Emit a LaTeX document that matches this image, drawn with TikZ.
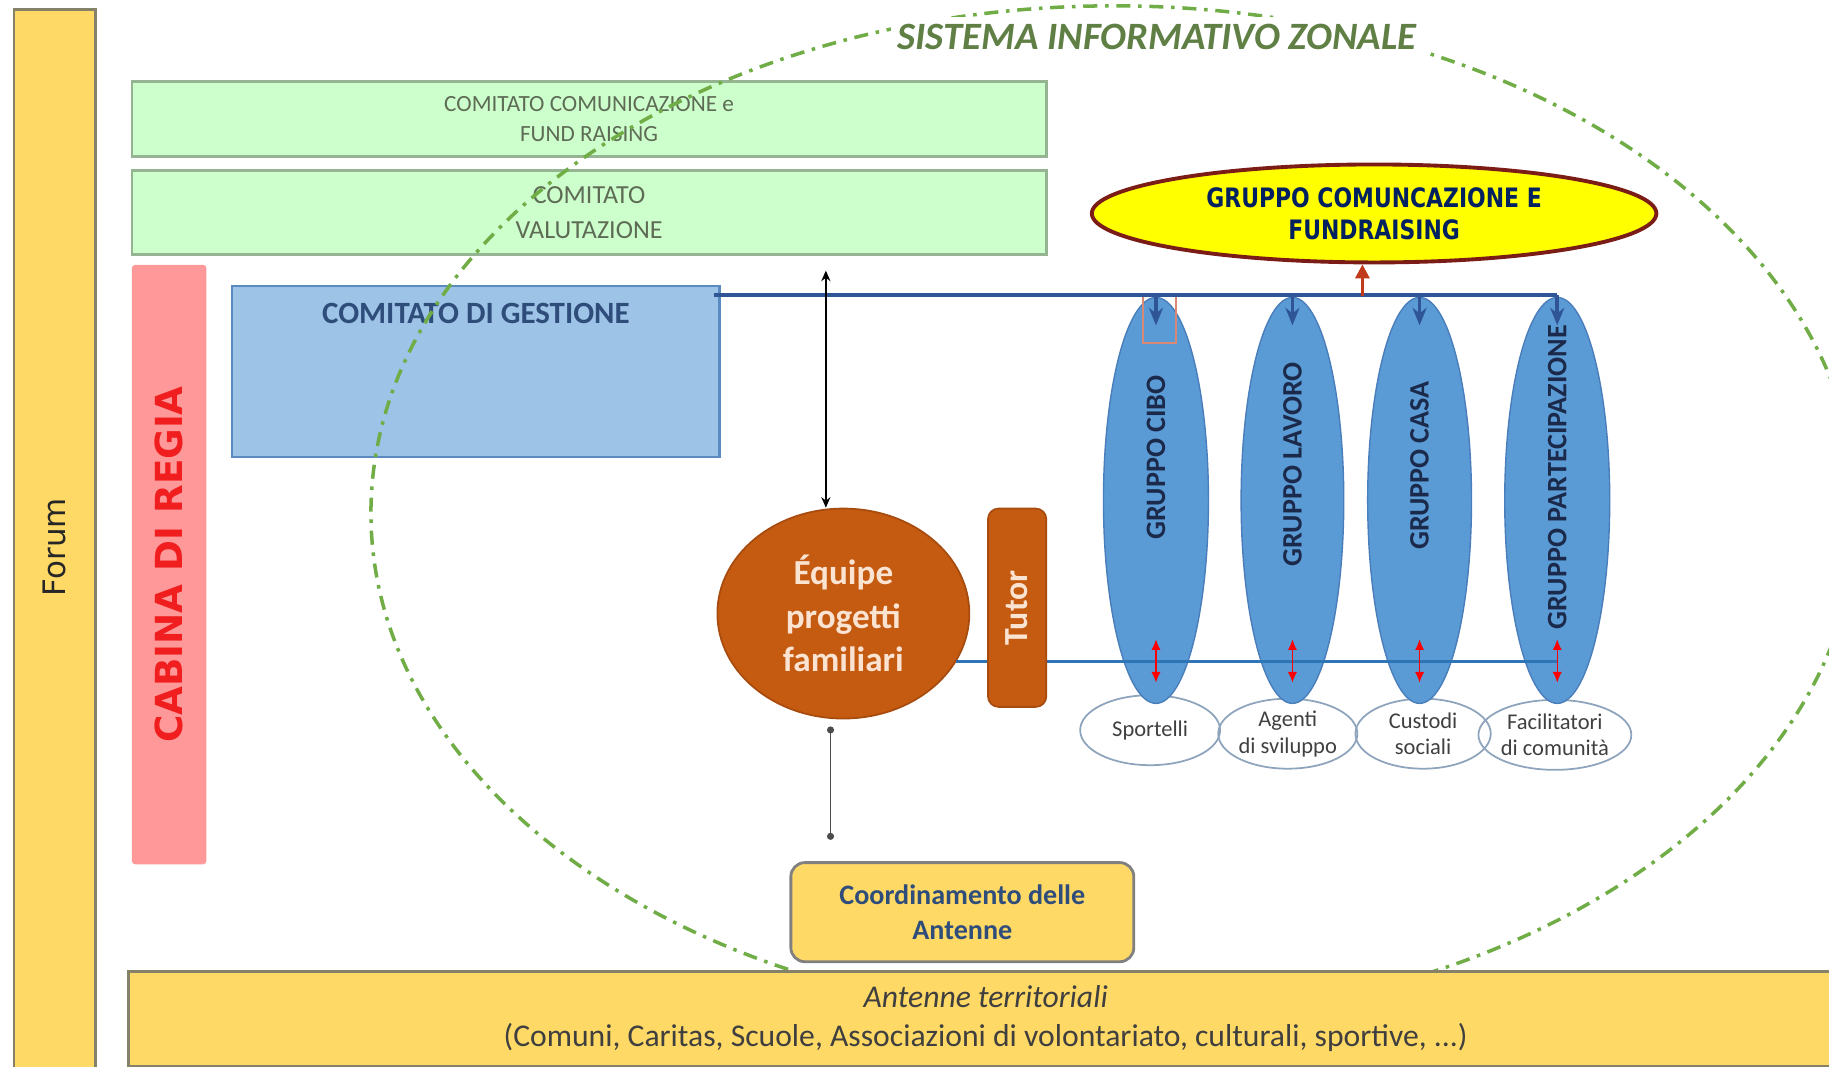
\documentclass[tikz,border=0pt]{standalone}
\usepackage{fontspec}
\setmainfont{Carlito}
\newfontfamily\dejavu{DejaVu Sans}
\newfontfamily\dejavunarrow{DejaVu Sans}[FakeStretch=0.82]
\usepackage{tikz}
\usetikzlibrary{positioning,arrows.meta,shapes.geometric,calc}

\definecolor{forumyellow}{HTML}{FFD966}
\definecolor{bargray}{HTML}{86826A}
\definecolor{greenfill}{HTML}{CCFFCC}
\definecolor{greenedge}{HTML}{95B592}
\definecolor{greentext}{HTML}{5E6B55}
\definecolor{cabinapink}{HTML}{FF9999}
\definecolor{cabinared}{HTML}{F01E1E}
\definecolor{gestfill}{HTML}{9DC3E6}
\definecolor{gestedge}{HTML}{5B8AC0}
\definecolor{gesttext}{HTML}{2F4D7A}
\definecolor{darkblue}{HTML}{2F5597}
\definecolor{midblue}{HTML}{2E75B6}
\definecolor{grpblue}{HTML}{5B9BD5}
\definecolor{grpedge}{HTML}{4A7EBB}
\definecolor{navy}{HTML}{1B2A4A}
\definecolor{equipeorange}{HTML}{C55A11}
\definecolor{peach}{HTML}{FBE3D2}
\definecolor{roleedge}{HTML}{8EA4BC}
\definecolor{rolegray}{HTML}{404040}
\definecolor{fundyellow}{HTML}{FFFF00}
\definecolor{fundedge}{HTML}{7B1C16}
\definecolor{fundtext}{HTML}{002060}
\definecolor{fundarrowred}{HTML}{C0391B}
\definecolor{zonegreen}{HTML}{70AD47}
\definecolor{zonetext}{HTML}{5F7F45}
\definecolor{bandtext}{HTML}{3F3F3F}

\newcommand\px{0.011665cm}

\begin{document}
\begin{tikzpicture}[x=\px, y=-\px, text centered, inner sep=1pt]
    \tikzstyle{forumbar}=[rectangle, draw=bargray, line width=0.7pt, fill=forumyellow]
    \tikzstyle{greenbox}=[rectangle, draw=greenedge, line width=0.7pt, fill=greenfill, text=greentext, align=center, minimum width=784*\px]
    \tikzstyle{cabinabar}=[rectangle, rounded corners=1pt, fill=cabinapink, text=cabinared, font=\dejavu\bfseries\fontsize{10.6}{12}\selectfont]
    \tikzstyle{gestbox}=[rectangle, draw=gestedge, line width=0.7pt, fill=gestfill]
    \tikzstyle{grp}=[ellipse, draw=grpedge, line width=0.4pt, fill=grpblue, minimum width=90*\px, minimum height=348*\px, inner sep=0pt]
    \tikzstyle{grptext}=[rotate=90, font=\bfseries\fontsize{8}{9.6}\selectfont, text=navy]
    \tikzstyle{role}=[ellipse, draw=roleedge, line width=0.5pt, minimum width=120*\px, minimum height=60*\px, inner sep=0pt, align=center, font=\fontsize{6.4}{7.6}\selectfont, text=rolegray]
    \tikzstyle{topline}=[draw=darkblue, line width=1pt]
    \tikzstyle{lowline}=[draw=midblue, line width=0.9pt]
    \tikzstyle{downarrow}=[-{Stealth[length=5pt,width=4pt]}, draw=darkblue, line width=1pt]
    \tikzstyle{redarrow}=[{Latex[length=3pt,width=2.6pt]}-{Latex[length=3pt,width=2.6pt]}, draw=red, line width=0.3pt]
    \tikzstyle{vlink}=[{Stealth[length=3pt,width=2.6pt]}-{Stealth[length=3pt,width=2.6pt]}, draw=black, line width=0.4pt]
    \tikzstyle{dotlink}=[{Circle[length=2pt]}-{Circle[length=2pt]}, draw=black!70, line width=0.4pt]
    \tikzstyle{fundarrow}=[-{Triangle[length=4pt,width=4pt]}, draw=fundarrowred, line width=0.9pt]
    \tikzstyle{zonale}=[draw=zonegreen, line width=1pt, dash pattern=on 4pt off 2.2pt on 1pt off 2.2pt]
    \tikzstyle{yellowbox}=[rectangle, draw=gray, line width=0.8pt, fill=forumyellow, align=center]

    \useasboundingbox (0,0) rectangle (1568,914);
    \clip (0,0) rectangle (1568,914);

    % left bars and committees
    \node[forumbar, rotate=90, minimum width=922*\px, minimum height=70*\px, font=\dejavu\fontsize{8.8}{10}\selectfont, text=black!85] (forum) at (47,469) {Forum};
    \node[greenbox, minimum height=64*\px, font=\fontsize{6.6}{8.3}\selectfont] (comcom) at (505,102) {COMITATO COMUNICAZIONE e\\FUND RAISING};
    \node[greenbox, minimum height=72*\px, font=\fontsize{7.4}{10}\selectfont] (comval) at (505,182) {COMITATO\\VALUTAZIONE};
    \node[cabinabar, rotate=90, minimum width=514*\px, minimum height=64*\px] (cabina) at (145,484) {CABINA DI REGIA};
    \node[gestbox, minimum width=418*\px, minimum height=147*\px] (gestione) at (408,318.5) {};
    \node[below=4pt of gestione.north, font=\bfseries\fontsize{8.8}{10}\selectfont, text=gesttext] (gesttitle) {COMITATO DI GESTIONE};

    % sistema informativo zonale
    \draw[zonale] (955,440) ellipse [x radius=637, y radius=435];
    \node[fill=white, inner sep=2pt, font=\bfseries\itshape\fontsize{11}{13}\selectfont, text=zonetext] (sistema) at (992,32) {SISTEMA INFORMATIVO ZONALE};

    % working groups
    \node[role] (sportelli) at (986,626) {Sportelli};
    \node[role, minimum width=118*\px] (agenti) at (1104,629) {Agenti\\di sviluppo};
    \node[role, minimum width=116*\px] (custodi) at (1220,629) {Custodi\\sociali};
    \node[role, minimum width=122*\px] (facil) at (1333,630) {Facilitatori\\di comunità};

    \node[grp] (cibo) at (991,429) {};
    \node[grp, minimum width=88*\px] (lavoro) at (1108,429) {};
    \node[grp, minimum width=89*\px] (casa) at (1217,429) {};
    \node[grp] (partec) at (1335,429) {};
    \node[grptext] (cibotxt) at (991,392) {GRUPPO CIBO};
    \node[grptext] (lavorotxt) at (1108,398) {GRUPPO LAVORO};
    \node[grptext] (casatxt) at (1217,399) {GRUPPO CASA};
    \node[grptext] (partectxt) at (1335,409) {GRUPPO PARTECIPAZIONE};
    \draw[draw=fundarrowred!60!white, line width=0.5pt] (980,252) rectangle (1008,294);

    \node[ellipse, draw=fundedge, line width=1.1pt, fill=fundyellow, minimum width=484*\px, minimum height=84*\px, inner sep=0pt, align=center, font=\dejavunarrow\bfseries\fontsize{7.6}{9}\selectfont, text=fundtext] (fundr) at (1178,183) {GRUPPO COMUNCAZIONE E\\FUNDRAISING};

    % equipe
    \node[ellipse, draw=equipeorange!85!black, line width=0.5pt, fill=equipeorange, minimum width=216*\px, minimum height=180*\px, align=center, font=\bfseries\fontsize{10}{12.4}\selectfont, text=peach] (equipe) at (723,526) {Équipe\\progetti\\familiari};

    % links
    \path (gestione.north east) ++(-6,9) coordinate (gl);
    \draw[topline] (gl) -- (gl -| partec.north);
    \foreach \g in {cibo,lavoro,casa,partec}
        \draw[downarrow] (gl -| \g.north) -- ++(0,26);
    \coordinate (fa) at (1168,254);
    \draw[fundarrow] (fa) -- (fa |- fundr.south);

    \coordinate (el) at (equipe.-23);
    \draw[lowline] (el) -- (el -| partec.center);
    \foreach \g in {cibo,lavoro,casa,partec}
        \draw[redarrow] ($(el -| \g)+(0,-19)$) -- ($(el -| \g)+(0,18)$);

    \node[rectangle, rounded corners=3pt, fill=equipeorange, draw=equipeorange!85!black, line width=0.5pt, rotate=90, minimum width=170*\px, minimum height=50*\px, font=\bfseries\fontsize{9.6}{11}\selectfont, text=peach] (tutor) at (872,521) {Tutor};

    \coordinate (cu) at (708,232);
    \draw[vlink] (cu) -- (cu |- equipe.north);
    \coordinate (cd) at (712,720);
    \draw[dotlink, shorten <=2pt] (cd |- equipe.south) -- (cd);

    % antenne
    \node[yellowbox, rounded corners=4pt, minimum width=294*\px, minimum height=85*\px, font=\bfseries\fontsize{8}{10}\selectfont, text=gesttext] (coord) at (825,782) {Coordinamento delle\\Antenne};
    \node[yellowbox, draw=bargray, minimum width=1470*\px, minimum height=81*\px, font=\fontsize{9}{11}\selectfont, text=bandtext] (antenne) at (845,873.5) {\textit{Antenne territoriali}\\(Comuni, Caritas, Scuole, Associazioni di volontariato, culturali, sportive, ...)};
\end{tikzpicture}
\end{document}
